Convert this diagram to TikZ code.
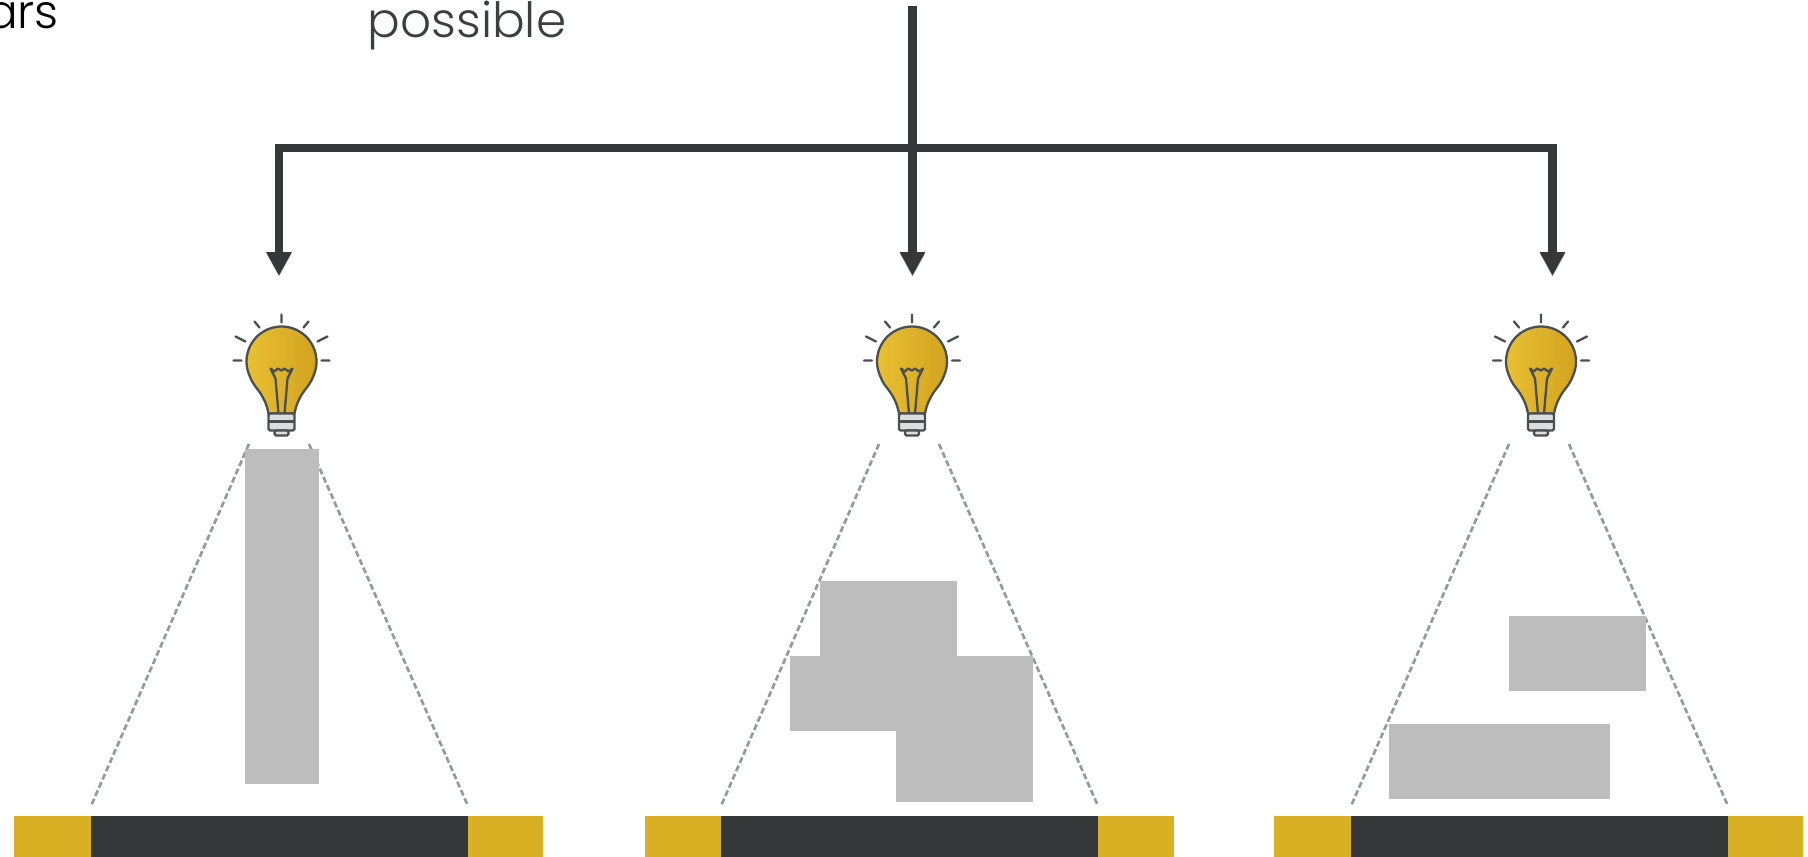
\documentclass[tikz,border=0pt]{standalone}
\usepackage{fontspec}
\setmainfont{Poppins Light}
\usetikzlibrary{arrows.meta,positioning}
\definecolor{LampInk}{HTML}{4B4F50}
\definecolor{LampGold}{HTML}{EAC134}
\definecolor{LampDeep}{HTML}{D2A31F}
\definecolor{LampBase}{HTML}{DADEE0}
\definecolor{PanelDark}{HTML}{353839}
\definecolor{PanelText}{HTML}{3B3F3F}
\definecolor{PanelGold}{HTML}{D9AF24}
\definecolor{PanelGrey}{HTML}{BDBDBD}
\definecolor{BeamGrey}{HTML}{939C99}
\tikzset{
  shade/.style={preaction={draw=black, draw opacity=.12, transform canvas={yshift=-2pt}}},
  branch/.style={shade, line width=8.5pt, draw=PanelDark},
  drop/.style={shade, -{Triangle[length=24pt,width=24pt]}, line width=8.5pt, draw=PanelDark},
  beam/.style={line width=2.7pt, draw=BeamGrey, dash pattern=on 6pt off 3pt},
  block/.style={fill=PanelGrey, inner sep=0pt, outer sep=0pt},
  barmid/.style={fill=PanelDark, inner sep=0pt, outer sep=0pt, minimum width=377pt, minimum height=41pt},
  barend/.style={fill=PanelGold, inner sep=0pt, outer sep=0pt, minimum height=41pt},
  lampline/.style={line width=2.3pt, draw=LampInk},
  lamp/.pic={
    \draw[lampline, line cap=round]
      (0,-47) -- (0,-39) (-27,-40) -- (-22,-34) (27,-40) -- (22,-34)
      (-46,-25) -- (-36,-20) (46,-25) -- (36,-20) (-48,-1) -- (-40,-1) (40,-1) -- (48,-1);
    \draw[lampline, left color=LampGold, right color=LampDeep]
      (-13,52) .. controls (-15,42) and (-18,36) .. (-23,29)
      .. controls (-26,25) and (-29,22) .. (-31.7,14.8)
      arc[start angle=155, end angle=385, radius=35]
      .. controls (29,22) and (26,25) .. (23,29)
      .. controls (18,36) and (15,42) .. (13,52) -- cycle;
    \draw[lampline, line join=round]
      (-3,52) -- (-6,17) -- (-11,7) -- (-7,10) -- (-4,7) -- (0,9) -- (3,7) -- (7,10) -- (11,7) -- (6,17) -- (3,52);
    \draw[lampline, fill=LampBase, rounded corners=1.5pt]
      (-13,52) rectangle (13,69);
    \draw[lampline] (-13,60) -- (13,60);
    \draw[lampline, fill=LampBase, rounded corners=1.5pt]
      (-7,69) rectangle (7,74);
  },
}
\begin{document}
\begin{tikzpicture}[x=1pt,y=-1pt]
  \useasboundingbox (0,0) rectangle (1808,857);
  \clip (0,0) rectangle (1808,857);
  \node[anchor=base east, inner sep=0pt, font=\fontsize{47}{47}\selectfont, text=black] (ars) at (59,28) {ars};
  \node[anchor=base, inner sep=0pt, font=\fontsize{48.5}{48.5}\selectfont, text=PanelText] (possible) at (467,37) {possible};

  \coordinate (beamAl) at (249,444);
  \coordinate (beamAr) at (309,444);
  \coordinate (beamBl) at (879,444);
  \coordinate (beamBr) at (939,444);
  \coordinate (beamCl) at (1509,444);
  \coordinate (beamCr) at (1569,444);

  \node[barmid] (barA) at (279.5,836.5) {};
  \node[barend, minimum width=77pt, left=0pt of barA] (endAl) {};
  \node[barend, minimum width=75pt, right=0pt of barA] (endAr) {};
  \node[barmid] (barB) at (909.5,836.5) {};
  \node[barend, minimum width=76pt, left=0pt of barB] (endBl) {};
  \node[barend, minimum width=76pt, right=0pt of barB] (endBr) {};
  \node[barmid] (barC) at (1539.5,836.5) {};
  \node[barend, minimum width=77pt, left=0pt of barC] (endCl) {};
  \node[barend, minimum width=75pt, right=0pt of barC] (endCr) {};

  \draw[beam] (beamAl) -- ([yshift=10pt]barA.north west);
  \draw[beam] (beamAr) -- ([yshift=10pt]barA.north east);
  \draw[beam] (beamBl) -- ([yshift=10pt]barB.north west);
  \draw[beam] (beamBr) -- ([yshift=10pt]barB.north east);
  \draw[beam] (beamCl) -- ([yshift=10pt]barC.north west);
  \draw[beam] (beamCr) -- ([yshift=10pt]barC.north east);

  \node[block, minimum width=74pt, minimum height=335.5pt] (blockA) at (282,616.25) {};
  \node[block, minimum width=137pt, minimum height=75pt] (blockB) at (888.5,618.5) {};
  \node[block, minimum width=243pt, minimum height=75pt] (blockC) at (911.5,693.5) {};
  \node[block, minimum width=137pt, minimum height=71pt] (blockD) at (964.5,766.5) {};
  \node[block, minimum width=137pt, minimum height=75pt] (blockE) at (1577.5,653.5) {};
  \node[block, minimum width=221pt, minimum height=75pt] (blockF) at (1499.5,761.5) {};

  \pic at (281.5,361.5) {lamp};
  \pic at (912,361.5) {lamp};
  \pic at (1541,361.5) {lamp};

  \coordinate (top) at (912.5,6);
  \coordinate (hub) at (912.5,148);
  \coordinate (turnA) at (279,148);
  \coordinate (turnC) at (1552.5,148);
  \coordinate (tipA) at (279,276);
  \coordinate (tipB) at (912.5,276);
  \coordinate (tipC) at (1552.5,276);
  \draw[branch] (top) -- (hub);
  \draw[branch] ([xshift=-4.25pt]turnA) -- ([xshift=4.25pt]turnC);
  \draw[drop] (turnA) -- (tipA);
  \draw[drop] (hub) -- (tipB);
  \draw[drop] (turnC) -- (tipC);
\end{tikzpicture}
\end{document}
